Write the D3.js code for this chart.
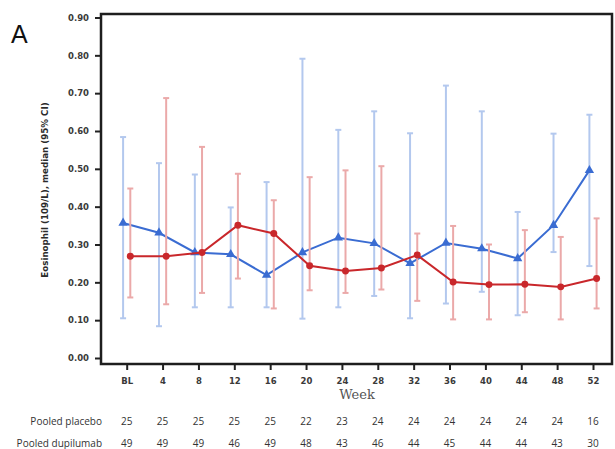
<!DOCTYPE html>
<html>
<head>
<meta charset="utf-8">
<script src="https://cdn.jsdelivr.net/npm/d3@7"></script>
<style>
  html, body { margin: 0; padding: 0; background: #fff; }
  svg { display: block; }
</style>
</head>
<body>
<svg id="chart" width="615" height="449"></svg>
<script>
// Weeks on the x axis
const weeks = ["BL", "4", "8", "12", "16", "20", "24", "28", "32", "36", "40", "44", "48", "52"];

// Pooled placebo: median eosinophil count and 95% CI
const placeboMedian = [0.357, 0.331, 0.279, 0.274, 0.219, 0.279, 0.318, 0.303, 0.250, 0.304, 0.289, 0.263, 0.351, 0.496];
const placeboLower  = [0.105, 0.084, 0.134, 0.134, 0.134, 0.104, 0.134, 0.164, 0.105, 0.144, 0.175, 0.113, 0.280, 0.243];
const placeboUpper  = [0.584, 0.515, 0.485, 0.398, 0.465, 0.791, 0.603, 0.652, 0.594, 0.720, 0.652, 0.386, 0.593, 0.643];

// Pooled dupilumab: median eosinophil count and 95% CI
const dupiMedian = [0.269, 0.269, 0.279, 0.351, 0.329, 0.244, 0.230, 0.238, 0.272, 0.201, 0.194, 0.195, 0.188, 0.210];
const dupiLower  = [0.160, 0.142, 0.172, 0.210, 0.131, 0.179, 0.172, 0.181, 0.151, 0.102, 0.102, 0.121, 0.102, 0.131];
const dupiUpper  = [0.448, 0.687, 0.558, 0.487, 0.417, 0.478, 0.496, 0.507, 0.329, 0.349, 0.300, 0.338, 0.320, 0.369];

// Patients at risk
const placeboN = [25, 25, 25, 25, 25, 22, 23, 24, 24, 24, 24, 24, 24, 16];
const dupiN    = [49, 49, 49, 46, 49, 48, 43, 46, 44, 45, 44, 44, 43, 30];

// Y tick values
const yTicks = [0, 0.1, 0.2, 0.3, 0.4, 0.5, 0.6, 0.7, 0.8, 0.9];

const svg = d3.select("#chart");

const frame = { left: 101, right: 612, top: 14, bottom: 364 };

const x = d3.scalePoint().domain(weeks).range([126.7, 593]);
const y = d3.scaleLinear().domain([0, 0.9]).range([358, 17.5]);

const blue = "#3a6cd2", blueLight = "#b3c8ee";
const red = "#c9272b", redLight = "#eba9a9";
const offset = 3.6;

// Panel letter
svg.append("text")
  .attr("x", 11).attr("y", 43)
  .attr("font-family", "Liberation Sans, Arial, sans-serif")
  .attr("font-size", 25)
  .attr("fill", "#111")
  .text("A");

// Y axis ticks and labels
const yAxis = d3.axisLeft(y).tickValues(yTicks).tickFormat(d3.format(".2f")).tickSize(6).tickPadding(6);
const gy = svg.append("g").attr("transform", `translate(${frame.left},0)`).call(yAxis);
gy.select(".domain").remove();
gy.selectAll(".tick line").attr("stroke", "#222").attr("stroke-width", 2);
gy.selectAll(".tick text")
  .attr("font-family", "DejaVu Sans, sans-serif")
  .attr("font-size", 8.5)
  .attr("font-weight", "bold")
  .attr("fill", "#3a3a3a");

// X axis ticks and labels
const xAxis = d3.axisBottom(x).tickSize(6).tickPadding(8);
const gx = svg.append("g").attr("transform", `translate(0,${frame.bottom})`).call(xAxis);
gx.select(".domain").remove();
gx.selectAll(".tick line").attr("stroke", "#222").attr("stroke-width", 2);
gx.selectAll(".tick text")
  .attr("font-family", "DejaVu Sans, sans-serif")
  .attr("font-size", 8.5)
  .attr("font-weight", "bold")
  .attr("fill", "#3a3a3a");

// Plot frame
svg.append("rect")
  .attr("x", frame.left).attr("y", frame.top)
  .attr("width", frame.right - frame.left)
  .attr("height", frame.bottom - frame.top)
  .attr("fill", "none")
  .attr("stroke", "#1e1e1e")
  .attr("stroke-width", 2.5);

// Y axis title
svg.append("text")
  .attr("transform", "translate(48,190) rotate(-90)")
  .attr("text-anchor", "middle")
  .attr("font-family", "DejaVu Sans, sans-serif")
  .attr("font-size", 8.7)
  .attr("font-weight", "bold")
  .attr("fill", "#2a2a2a")
  .text("Eosinophil (109/L), median (95% CI)");

// X axis title
svg.append("text")
  .attr("x", 357).attr("y", 399)
  .attr("text-anchor", "middle")
  .attr("font-family", "DejaVu Serif, serif")
  .attr("font-size", 13)
  .attr("fill", "#555")
  .text("Week");

// Draws one series: error bars, connecting line, markers
function drawSeries(med, lo, hi, dx, lineColor, barColor, marker) {
  const g = svg.append("g");
  const idx = d3.range(weeks.length);
  const px = i => x(weeks[i]) + dx;

  g.selectAll("line.bar").data(idx).join("line")
    .attr("x1", px).attr("x2", px)
    .attr("y1", i => y(lo[i])).attr("y2", i => y(hi[i]))
    .attr("stroke", barColor).attr("stroke-width", 2);
  [lo, hi].forEach(arr => {
    g.selectAll(null).data(idx).join("line")
      .attr("x1", i => px(i) - 3).attr("x2", i => px(i) + 3)
      .attr("y1", i => y(arr[i])).attr("y2", i => y(arr[i]))
      .attr("stroke", barColor).attr("stroke-width", 2);
  });

  g.append("path")
    .datum(idx)
    .attr("d", d3.line().x(px).y(i => y(med[i])))
    .attr("fill", "none")
    .attr("stroke", lineColor)
    .attr("stroke-width", 2);

  g.selectAll("path.mk").data(idx).join("path")
    .attr("transform", i => `translate(${px(i)},${y(med[i])})`)
    .attr("d", d3.symbol().type(marker).size(marker === d3.symbolTriangle ? 38 : 38))
    .attr("fill", lineColor);
}

drawSeries(placeboMedian, placeboLower, placeboUpper, -offset, blue, blueLight, d3.symbolTriangle);
drawSeries(dupiMedian, dupiLower, dupiUpper, offset, red, redLight, d3.symbolCircle);

// At-risk table
const rows = [
  { label: "Pooled placebo", values: placeboN, y: 425 },
  { label: "Pooled dupilumab", values: dupiN, y: 447 }
];
rows.forEach(r => {
  svg.append("text")
    .attr("x", 102).attr("y", r.y)
    .attr("text-anchor", "end")
    .attr("font-family", "Open Sans, sans-serif")
    .attr("font-size", 10)
    .attr("fill", "#333")
    .text(r.label);
  svg.append("g").selectAll("text").data(r.values).join("text")
    .attr("x", (d, i) => x(weeks[i]))
    .attr("y", r.y)
    .attr("text-anchor", "middle")
    .attr("font-family", "Open Sans, sans-serif")
    .attr("font-size", 10)
    .attr("fill", "#333")
    .text(d => d);
});
</script>
</body>
</html>
